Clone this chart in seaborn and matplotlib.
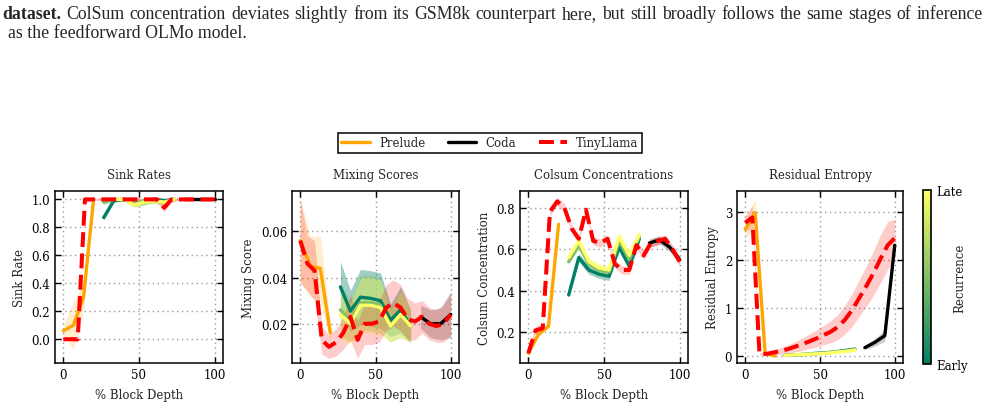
import numpy as np
import pandas as pd
import matplotlib
matplotlib.use("Agg")
import matplotlib.pyplot as plt
from matplotlib.lines import Line2D
from matplotlib.colors import Normalize
from matplotlib.cm import ScalarMappable
import seaborn as sns

# ---------------- data ----------------
X_PRELUDE = [0, 6.67, 13.33, 20]
X_RECUR = [26.67, 33.33, 40, 46.67, 53.33, 60, 66.67, 73.33]
X_CODA = [80, 86.67, 93.33, 100]
X_TINY = [0, 4.76, 9.52, 14.29, 19.05, 23.81, 28.57, 33.33, 38.10, 42.86, 47.62,
          52.38, 57.14, 61.90, 66.67, 71.43, 76.19, 80.95, 85.71, 90.48, 95.24, 100]
RECUR_LEVELS = [0.0, 0.5, 1.0]  # early -> late

PANEL_TITLES = ["Sink Rates", "Mixing Scores", "Colsum Concentrations", "Residual Entropy"]
PANEL_YLABELS = ["Sink Rate", "Mixing Score", "Colsum Concentration", "Residual Entropy"]
XLABEL = "% Block Depth"
SERIES_NAMES = ["Prelude", "Coda", "TinyLlama"]

# Sink rates
SINK_PRELUDE = [0.06, 0.10, 0.30, 1.00]
SINK_PRELUDE_ERR = [0.04, 0.17, 0.10, 0.01]
SINK_EARLY = [0.87, 0.99, 1.00, 0.97, 0.98, 1.00, 0.99, 1.00]
SINK_MID = [0.98, 1.00, 1.00, 0.97, 0.99, 0.99, 0.98, 1.00]
SINK_LATE = [1.00, 1.00, 1.00, 0.96, 0.98, 0.99, 0.98, 1.00]
SINK_RECUR_ERR = [0.02, 0.01, 0.01, 0.02, 0.02, 0.02, 0.02, 0.01]
SINK_CODA = [1.00, 1.00, 1.00, 1.00]
SINK_CODA_ERR = [0.01, 0.01, 0.01, 0.01]
SINK_TINY = [0.00, 0.00, 0.00, 1.00, 1.00, 1.00, 1.00, 1.00, 1.00, 1.00, 1.00,
             1.00, 1.00, 1.00, 0.94, 1.00, 1.00, 1.00, 1.00, 1.00, 1.00, 1.00]
SINK_TINY_ERR = [0.01, 0.01, 0.02, 0.02, 0.01, 0.01, 0.01, 0.01, 0.01, 0.01, 0.01,
                 0.01, 0.01, 0.02, 0.03, 0.02, 0.01, 0.01, 0.01, 0.01, 0.01, 0.01]

# Mixing scores
MIX_PRELUDE = [0.056, 0.045, 0.044, 0.016]
MIX_PRELUDE_ERR = [0.018, 0.013, 0.014, 0.004]
MIX_EARLY = [0.036, 0.0255, 0.0315, 0.031, 0.030, 0.0215, 0.026, 0.019]
MIX_MID = [0.026, 0.021, 0.029, 0.029, 0.028, 0.019, 0.024, 0.019]
MIX_LATE = [0.024, 0.020, 0.028, 0.028, 0.027, 0.019, 0.024, 0.019]
MIX_RECUR_ERR = [0.011, 0.009, 0.012, 0.012, 0.012, 0.007, 0.010, 0.007]
MIX_CODA = [0.023, 0.020, 0.020, 0.024]
MIX_CODA_ERR = [0.005, 0.006, 0.007, 0.010]
MIX_TINY = [0.056, 0.046, 0.043, 0.013, 0.010, 0.012, 0.016, 0.023, 0.013, 0.020, 0.020,
            0.021, 0.027, 0.029, 0.027, 0.022, 0.021, 0.023, 0.020, 0.019, 0.020, 0.024]
MIX_TINY_ERR = [0.018, 0.012, 0.013, 0.006, 0.005, 0.006, 0.007, 0.010, 0.008, 0.009, 0.009,
                0.009, 0.010, 0.010, 0.010, 0.009, 0.008, 0.007, 0.007, 0.007, 0.008, 0.009]

# Colsum concentrations
COL_PRELUDE = [0.10, 0.19, 0.23, 0.72]
COL_PRELUDE_ERR = [0.01, 0.01, 0.01, 0.02]
COL_EARLY = [0.38, 0.56, 0.50, 0.48, 0.47, 0.61, 0.52, 0.65]
COL_MID = [0.54, 0.62, 0.53, 0.50, 0.49, 0.64, 0.55, 0.66]
COL_LATE = [0.56, 0.64, 0.54, 0.51, 0.50, 0.66, 0.57, 0.67]
COL_RECUR_ERR = [0.01, 0.02, 0.02, 0.02, 0.02, 0.02, 0.02, 0.02]
COL_CODA = [0.63, 0.645, 0.61, 0.55]
COL_CODA_ERR = [0.02, 0.02, 0.02, 0.02]
COL_TINY = [0.10, 0.21, 0.22, 0.78, 0.83, 0.80, 0.70, 0.65, 0.79, 0.64, 0.63,
            0.65, 0.53, 0.50, 0.50, 0.62, 0.57, 0.63, 0.64, 0.65, 0.60, 0.54]
COL_TINY_ERR = [0.02] * 22

# Residual entropy
ENT_PRELUDE = [2.63, 2.98, 0.04, 0.00]
ENT_PRELUDE_ERR = [0.18, 0.30, 0.02, 0.02]
ENT_EARLY = [0.01, 0.02, 0.03, 0.05, 0.06, 0.08, 0.11, 0.14]
ENT_MID = [0.01, 0.02, 0.03, 0.04, 0.06, 0.08, 0.10, 0.13]
ENT_LATE = [0.01, 0.02, 0.03, 0.04, 0.05, 0.07, 0.09, 0.12]
ENT_RECUR_ERR = [0.01, 0.01, 0.01, 0.02, 0.02, 0.02, 0.02, 0.03]
ENT_CODA = [0.17, 0.28, 0.42, 2.30]
ENT_CODA_ERR = [0.04, 0.08, 0.12, 0.06]
ENT_TINY = [2.77, 2.88, 0.04, 0.04, 0.07, 0.10, 0.14, 0.19, 0.24, 0.30, 0.36,
            0.43, 0.50, 0.60, 0.75, 0.95, 1.20, 1.45, 1.72, 2.02, 2.30, 2.45]
ENT_TINY_ERR = [0.15, 0.25, 0.02, 0.03, 0.05, 0.07, 0.09, 0.11, 0.13, 0.15, 0.18,
                0.20, 0.23, 0.26, 0.30, 0.34, 0.38, 0.42, 0.46, 0.50, 0.50, 0.40]

YLIMS = [(-0.17, 1.06), (0.003, 0.0775), (0.053, 0.88), (-0.15, 3.43)]
YTICKS = [[0.0, 0.2, 0.4, 0.6, 0.8, 1.0], [0.02, 0.04, 0.06], [0.2, 0.4, 0.6, 0.8], [0, 1, 2, 3]]

CAPTION_1 = "ColSum concentration deviates slightly from its GSM8k counterpart here, but still broadly follows the same stages of inference"
CAPTION_1_BOLD = "dataset."
CAPTION_2 = "as the feedforward OLMo model."

# ---------------- style ----------------
sns.set_style("ticks")
plt.rcParams.update({
    "font.family": ["DejaVu Serif"],
    "font.size": 8,
    "axes.linewidth": 1.1,
    "xtick.direction": "in", "ytick.direction": "in",
    "xtick.top": True, "ytick.right": True,
    "xtick.major.size": 4, "ytick.major.size": 4,
    "xtick.major.width": 1.0, "ytick.major.width": 1.0,
    "xtick.labelsize": 8.5, "ytick.labelsize": 8.5,
    "axes.titlesize": 8.5, "axes.labelsize": 8.5,
    "axes.edgecolor": "black",
    "xtick.color": "black", "ytick.color": "black",
})

PRELUDE_C = "#FFA500"
CODA_C = "black"
TINY_C = "#FF0000"
CMAP = plt.get_cmap("summer")
LW = 2.4
LW_DASH = 2.9

fig = plt.figure(figsize=(9.85, 4.10), dpi=100)

bottom = (410 - 364) / 410
height = (364 - 192) / 410
lefts = [55, 292, 520, 737]
widths = [168, 167, 168, 166]
axes = [fig.add_axes([l / 985, bottom, w / 985, height]) for l, w in zip(lefts, widths)]

panels = [
    (SINK_PRELUDE, SINK_PRELUDE_ERR, [SINK_EARLY, SINK_MID, SINK_LATE], SINK_RECUR_ERR,
     SINK_CODA, SINK_CODA_ERR, SINK_TINY, SINK_TINY_ERR),
    (MIX_PRELUDE, MIX_PRELUDE_ERR, [MIX_EARLY, MIX_MID, MIX_LATE], MIX_RECUR_ERR,
     MIX_CODA, MIX_CODA_ERR, MIX_TINY, MIX_TINY_ERR),
    (COL_PRELUDE, COL_PRELUDE_ERR, [COL_EARLY, COL_MID, COL_LATE], COL_RECUR_ERR,
     COL_CODA, COL_CODA_ERR, COL_TINY, COL_TINY_ERR),
    (ENT_PRELUDE, ENT_PRELUDE_ERR, [ENT_EARLY, ENT_MID, ENT_LATE], ENT_RECUR_ERR,
     ENT_CODA, ENT_CODA_ERR, ENT_TINY, ENT_TINY_ERR),
]


def series(ax, x, y, err, color, ls="-", alpha=0.2, lw=LW):
    y = np.asarray(y, float)
    e = np.asarray(err, float)
    ax.fill_between(x, y - e, y + e, color=color, alpha=alpha, linewidth=0)
    df = pd.DataFrame({"x": x, "y": y})
    sns.lineplot(data=df, x="x", y="y", ax=ax, color=color, linewidth=lw,
                 linestyle=ls, errorbar=None)


for i, ax in enumerate(axes):
    pre, pre_e, recs, rec_e, coda, coda_e, tiny, tiny_e = panels[i]
    series(ax, X_PRELUDE, pre, pre_e, PRELUDE_C)
    for lvl, rec in zip(RECUR_LEVELS, recs):
        series(ax, X_RECUR, rec, rec_e, CMAP(lvl), alpha=0.38)
    series(ax, X_CODA, coda, coda_e, CODA_C)
    series(ax, X_TINY, tiny, tiny_e, TINY_C, ls="--", lw=LW_DASH)
    ax.set_xlim(-5.5, 105.5)
    ax.set_ylim(*YLIMS[i])
    ax.set_xticks([0, 50, 100])
    ax.set_yticks(YTICKS[i])
    ax.grid(True, linestyle=(0, (1, 2.5)), color="#9a9a9a", linewidth=1.0)
    ax.set_title(PANEL_TITLES[i], pad=9)
    ax.set_ylabel(PANEL_YLABELS[i], labelpad=4)
    ax.set_xlabel(XLABEL, labelpad=5)
    for s in ax.spines.values():
        s.set_visible(True)
        s.set_color("black")

# colorbar
cax = fig.add_axes([923 / 985, (410 - 365) / 410, 8 / 985, 174 / 410])
sm = ScalarMappable(norm=Normalize(0, 1), cmap=CMAP)
cb = fig.colorbar(sm, cax=cax)
cb.set_ticks([0, 1])
cb.set_ticklabels(["Early", "Late"])
cax.tick_params(length=0, right=True, left=False, top=False, labelsize=8.5)
cb.outline.set_linewidth(1.2)
cb.set_label("Recurrence", labelpad=-10, fontsize=8.5)

# legend
handles = [Line2D([], [], color=PRELUDE_C, lw=LW),
           Line2D([], [], color=CODA_C, lw=LW),
           Line2D([], [], color=TINY_C, lw=LW_DASH, ls="--")]
leg = fig.legend(handles, SERIES_NAMES, loc="center", bbox_to_anchor=(490 / 985, (410 - 144) / 410),
                 ncol=3, frameon=True, fancybox=False, edgecolor="black", framealpha=1,
                 handlelength=2.4, columnspacing=1.9, fontsize=8.5, borderpad=0.3)
leg.get_frame().set_linewidth(1.1)

# caption (justified first line)
fig.canvas.draw()
renderer = fig.canvas.get_renderer()
CAP_FONT = ["Liberation Serif", "DejaVu Serif"]
probe = fig.text(0, 0, CAPTION_2, fontsize=12, family=CAP_FONT)
w_probe = probe.get_window_extent(renderer).width
probe.remove()
cap_fs = 12 * 238 / w_probe

y1 = (410 - 19) / 410
y2 = (410 - 38) / 410
words = [CAPTION_1_BOLD] + CAPTION_1.split()
objs = []
for k, wd in enumerate(words):
    t = fig.text(0, y1, wd, fontsize=cap_fs, family=CAP_FONT,
                 weight="bold" if k == 0 else "normal", va="baseline")
    objs.append(t)
wsum = sum(t.get_window_extent(renderer).width for t in objs)
x0_px, x1_px = 2, 983
gap = (x1_px - x0_px - wsum) / (len(objs) - 1)
xp = x0_px
for t in objs:
    t.set_x(xp / 985)
    xp += t.get_window_extent(renderer).width + gap
fig.text(8 / 985, y2, CAPTION_2, fontsize=cap_fs, family=CAP_FONT, va="baseline")

fig.savefig("out.png", dpi=100)
